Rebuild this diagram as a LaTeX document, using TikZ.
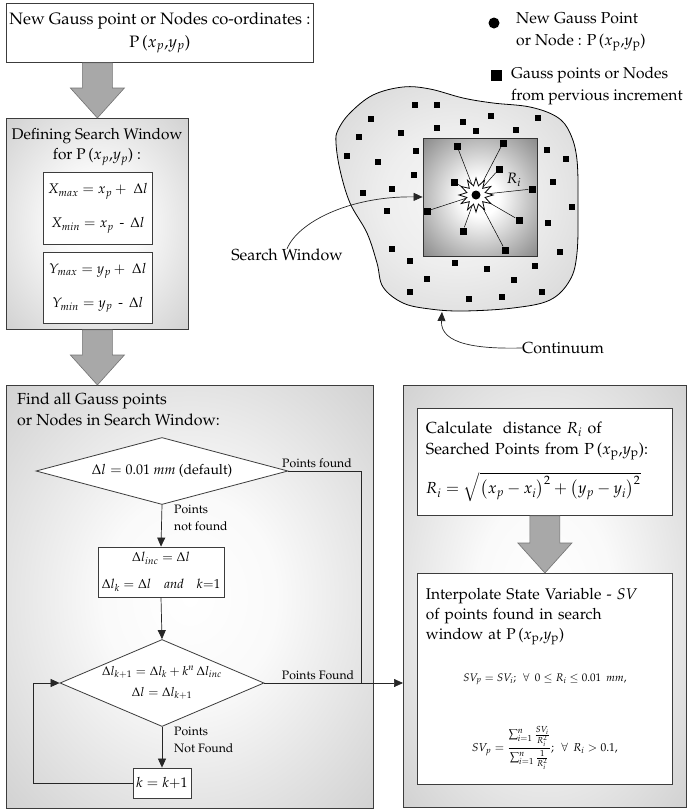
\documentclass[tikz,border=0pt]{standalone}
\usepackage[T1]{fontenc}
\usepackage{amsmath}
\usepackage{mathpazo}
\usetikzlibrary{arrows.meta,positioning,calc,shapes.geometric}
\definecolor{Edge}{HTML}{3C3C3C}
\definecolor{Panel}{HTML}{BCBCBC}
\definecolor{Block}{HTML}{A8A8A8}
\definecolor{Blob}{HTML}{C6C6C6}
\definecolor{Window}{HTML}{4A4A4A}
\pgfdeclareradialshading{softpanel}{\pgfpoint{0bp}{0bp}}{color(0bp)=(white);
 color(12bp)=(white!92!Panel); color(48bp)=(Panel); color(70bp)=(Panel)}
\pgfdeclareradialshading{softblob}{\pgfpoint{0bp}{0bp}}{color(0bp)=(white!85!Blob);
 color(15bp)=(white!70!Blob); color(48bp)=(Blob); color(70bp)=(Blob)}
\pgfdeclareradialshading{darkwin}{\pgfpoint{0bp}{0bp}}{color(0bp)=(white);
 color(8bp)=(white); color(50bp)=(Window); color(72bp)=(Window)}
\tikzset{
 panel/.style={draw=Edge,line width=.8pt,shade,shading=softpanel,inner sep=0pt},
 box/.style={draw=Edge,line width=.8pt,fill=white,align=center,font=\fontsize{16.5}{23}\selectfont,inner sep=3pt},
 decision/.style={diamond,draw=Edge,line width=.8pt,fill=white,inner sep=0pt,align=center},
 flow/.style={draw=black!85,line width=.7pt},
 arr/.style={flow,-{Triangle[length=9pt,width=8pt]}},
 tag/.style={font=\fontsize{12.2}{17}\selectfont,align=left,inner sep=0pt},
 txt/.style={font=\fontsize{16}{21}\selectfont,inner sep=0pt},
 fat/.style={fill=Block,draw=black!55,line width=.6pt},
 gp/.style={fill=black,inner sep=0pt,minimum size=6.5pt},
 ray/.style={draw=black,line width=.5pt}
}
\newcommand\fatarrow[2]{%
 \filldraw[fat] ($(#1)+(-15,0)$) -- ($(#1)+(15,0)$) -- ($(#2)+(15,-30)$)
  -- ($(#2)+(27,-30)$) -- (#2) -- ($(#2)+(-27,-30)$) -- ($(#2)+(-15,-30)$) -- cycle;}

\begin{document}
\begin{tikzpicture}[x=1pt,y=-1pt]
\useasboundingbox (0,0) rectangle (687,809);
% left column
\node[box,minimum width=300pt,minimum height=59pt,anchor=north west] (newpt) at (6,3)
 {New Gauss point or Nodes co-ordinates :\\P\,($x_p$,$y_p$)};
\node[panel,minimum width=182pt,minimum height=211pt,anchor=north west] (defwin) at (6,118) {};
\node[txt,align=center,font=\fontsize{15.4}{20}\selectfont] (deftitle) at (97,147) {Defining Search Window\\for P\,($x_p$,$y_p$) :};
\node[box,minimum width=109pt,minimum height=72pt,anchor=north west,font=\fontsize{14}{34}\selectfont] (xlim) at (43,172)
 {$X_{max} = x_p + \;\Delta l$\\$X_{min} = x_p$ \,-\, $\Delta l$};
\node[box,minimum width=109pt,minimum height=71pt,anchor=north west,font=\fontsize{14}{34}\selectfont] (ylim) at (43,252)
 {$Y_{max} = y_p + \;\Delta l$\\$Y_{min} = y_p$ \,-\, $\Delta l$};
\coordinate (a1s) at (defwin.north |- newpt.south);
\fatarrow{a1s}{defwin.north}

\node[panel,minimum width=367pt,minimum height=423pt,anchor=north west] (find) at (6,385) {};
\coordinate (a2e) at (defwin.south |- find.north);
\fatarrow{defwin.south}{a2e}
\node[txt,align=left,anchor=north west,font=\fontsize{16}{20.5}\selectfont] (findtitle) at (17,393) {Find all Gauss points\\or Nodes in Search Window:};

\node[decision,aspect=3.76,minimum width=252pt,minimum height=67pt,font=\fontsize{14}{20}\selectfont] (dflt) at (162,471)
 {$\Delta l = 0.01\ \mathit{mm}$ (default)};
\node[box,minimum width=126pt,minimum height=50pt,font=\fontsize{13}{27}\selectfont,inner sep=1pt] (init) at (161,572)
 {$\Delta l_{inc} = \Delta l$\\$\Delta l_k = \Delta l\quad\mathit{and}\quad k{=}1$};
\node[decision,aspect=2.34,minimum width=204pt,minimum height=87pt,font=\fontsize{12.5}{21}\selectfont] (grow) at (162,683)
 {$\Delta l_{k+1} = \Delta l_k + k^n\,\Delta l_{inc}$\\$\Delta l = \Delta l_{k+1}$};
\node[box,minimum width=58pt,minimum height=30pt,font=\fontsize{14}{20}\selectfont] (incr) at (162,783) {$k = k{+}1$};

\draw[arr] (dflt.south) -- (init.north);
\draw[arr] (init.south) -- (grow.north);
\draw[arr] (grow.south) -- (incr.north);
\draw[arr] (incr.west) -- ++(-99,0) |- (grow.west);

\node[tag,anchor=north west] (nf1) at (174,505) {Points\\not found};
\node[tag,anchor=south] (pf1) at (317,468) {Points found};
\node[tag,anchor=north west] (nf2) at (174,727) {Points\\Not Found};
\node[tag,anchor=south] (pf2) at (318,680) {Points Found};

% right column
\node[panel,minimum width=283pt,minimum height=422pt,anchor=north west] (interp) at (403,385) {};
\coordinate (joint) at (361,683);
\draw[flow] (dflt.east) -| (joint);
\draw[arr] (grow.east) -- (grow.east -| interp.west);

\node[box,align=left,minimum width=255pt,minimum height=107pt,anchor=north west,text width=238pt,font=\fontsize{16}{21}\selectfont] (dist) at (417,408)
 {Calculate\ \ distance $R_i$ of\\Searched Points from P\,($x_{\mathrm p}$,$y_{\mathrm p}$):\\[11pt]
  {\fontsize{16}{20}\selectfont$R_i = \sqrt{\left(x_p - x_i\right)^2 + \left(y_p - y_i\right)^2}$}};
\node[box,align=left,minimum width=255pt,minimum height=211pt,anchor=north west,text width=238pt,font=\fontsize{15.5}{20}\selectfont] (sv) at (417,573)
 {Interpolate State Variable - \textit{SV}\\of points found in search\\window at P\,($x_{\mathrm p}$,$y_{\mathrm p}$)\\[22pt]
  \makebox[238pt]{\fontsize{11}{14}\selectfont$SV_p = SV_i;\ \forall\ 0 \le R_i \le 0.01\ mm,$}\\[40pt]
  \makebox[238pt]{\fontsize{11.5}{14}\selectfont$SV_p = \dfrac{\sum_{i=1}^{n}\frac{SV_i}{R_i^2}}{\sum_{i=1}^{n}\frac{1}{R_i^2}};\ \forall\ R_i > 0.1,$}};
\fatarrow{dist.south}{sv.north}

% continuum with points
\shadedraw[draw=black,line width=.8pt,shading=softblob]
 plot[smooth cycle,tension=.6] coordinates {(373,95) (403,87) (430,89) (463,98) (493,103) (530,107) (557,117)
  (570,133) (577,160) (578,207) (577,253) (570,280) (550,300) (513,308) (463,311) (430,309) (403,303)
  (383,287) (377,263) (367,233) (350,203) (340,170) (336,143) (338,130) (350,113)};
\foreach \x/\y [count=\i] in {415/105,437/105,371/119,463/122,491/116,538/118,437/128,476/131,516/130,
  401/133,359/137,416/151,347/156,378/162,547/150,566/159,414/175,553/182,392/189,363/193,572/207,
  387/211,548/223,392/249,560/252,410/261,455/263,487/269,535/266,427/279,514/280,410/292,469/299,
  502/297,542/292}
 \node[gp] (o\i) at (\x,\y) {};

\node[draw=black!80,line width=.8pt,minimum width=114pt,minimum height=118pt,shade,shading=darkwin,inner sep=0pt] (srchwin) at (480,197) {};
\coordinate (pc) at (476,195);
\foreach \x/\y [count=\i] in {457/146,503/143,499/169,454/182,532/189,427/211,519/220,463/231,505/250}{
 \node[gp,minimum size=7pt] (n\i) at (\x,\y) {};
 \draw[ray] (pc) -- (n\i);
}
\node[star,star points=12,star point ratio=1.8,minimum size=34pt,draw,fill=white,inner sep=0pt,line width=.8pt] (newgp) at (pc) {};
\node[circle,fill=black,minimum size=9pt,inner sep=0pt] (pdot) at (pc) {};
\node[font=\fontsize{15}{16}\selectfont] (ri) at (514,180) {$R_i$};

\node[txt] (swlbl) at (287,255) {Search Window};
\draw[arr] (swlbl.north) .. controls (298,222) and (350,196) .. (srchwin.west);
\node[txt] (contlbl) at (563,348) {Continuum};
\coordinate (cbnd) at (442,312);
\draw[arr] (contlbl.west) .. controls (480,349) and (440,345) .. (cbnd);

% legend
\node[circle,fill=black,minimum size=11pt,inner sep=0pt] (lgdot) at (494,23) {};
\node[txt,align=left,anchor=west,font=\fontsize{15.8}{22}\selectfont] (lgdottxt) at (516,32) {New Gauss Point\\or Node : P\,($x_{\mathrm p}$,$y_{\mathrm p}$)};
\node[fill=black,minimum size=11pt,inner sep=0pt] (lgsq) at (496,75) {};
\node[txt,align=left,anchor=west,font=\fontsize{15.6}{22}\selectfont] (lgsqtxt) at (511,86) {Gauss points or Nodes\\from pervious increment};
\end{tikzpicture}
\end{document}
